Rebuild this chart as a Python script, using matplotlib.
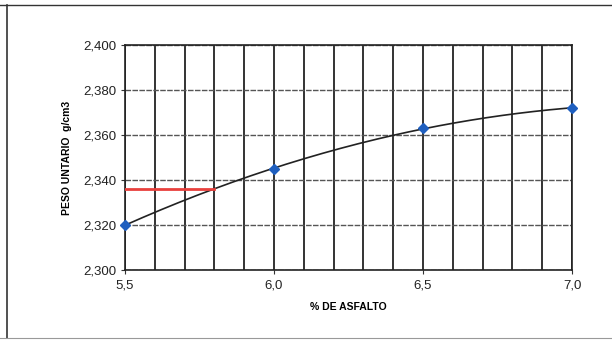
import numpy as np
import matplotlib.pyplot as plt
from matplotlib.lines import Line2D

plt.rcParams['font.family'] = ['Liberation Sans', 'DejaVu Sans']

asfalto = [5.5, 6.0, 6.5, 7.0]
peso = [2.320, 2.345, 2.363, 2.372]
optimo_x = [5.5, 5.8]
optimo_y = [2.336, 2.336]

fig = plt.figure(figsize=(6.12, 3.4), dpi=100)
ax = fig.add_axes([125 / 612, 1 - 270 / 340, 447 / 612, 225 / 340])

# trendline (2nd order polynomial, like excel)
c = np.polyfit(asfalto, peso, 2)
xs = np.linspace(5.5, 7.0, 200)
ax.plot(xs, np.polyval(c, xs), color='#222222', lw=1.2, zorder=3)
ax.plot(asfalto, peso, 'D', color='#1f5fbf', ms=5, zorder=4, clip_on=False)
ax.plot(optimo_x, optimo_y, color='#e8403c', lw=2, zorder=3)

ax.set_xlim(5.5, 7.0)
ax.set_ylim(2.300, 2.400)
ax.set_xticks(np.arange(5.5, 7.01, 0.5))
ax.set_xticks(np.arange(5.5, 7.01, 0.1), minor=True)
ax.set_yticks(np.arange(2.30, 2.401, 0.02))
ax.set_xticklabels([f'{v:.1f}'.replace('.', ',') for v in np.arange(5.5, 7.01, 0.5)])
ax.set_yticklabels([f'{v:.3f}'.replace('.', ',') for v in np.arange(2.30, 2.401, 0.02)])

ax.grid(axis='x', which='both', color='#111111', lw=1.2)
ax.grid(axis='y', which='major', color='#555555', lw=1, ls=(0, (4, 1)))
ax.tick_params(axis='x', which='minor', length=0)
ax.tick_params(labelsize=9.5, length=3, color='#333333', colors='#222222')
for s in ax.spines.values():
    s.set_color('#222222')
    s.set_linewidth(1.2)

ax.set_xlabel('% DE ASFALTO', fontsize=7.5, fontweight='bold', labelpad=8)
ax.set_ylabel('PESO UNTARIO  g/cm3', fontsize=7.5, fontweight='bold', labelpad=8)

# scanned frame: top, left and a faint bottom edge
fig.lines.append(Line2D([0, 1], [1 - 5 / 340] * 2, transform=fig.transFigure, color='#333333', lw=1))
fig.lines.append(Line2D([7 / 612] * 2, [1 - 5 / 340, 1 - 338 / 340], transform=fig.transFigure, color='#333333', lw=1.2))
fig.lines.append(Line2D([0, 1], [1 - 338 / 340] * 2, transform=fig.transFigure, color='#999999', lw=0.8))

fig.savefig('out.png', dpi=100)
